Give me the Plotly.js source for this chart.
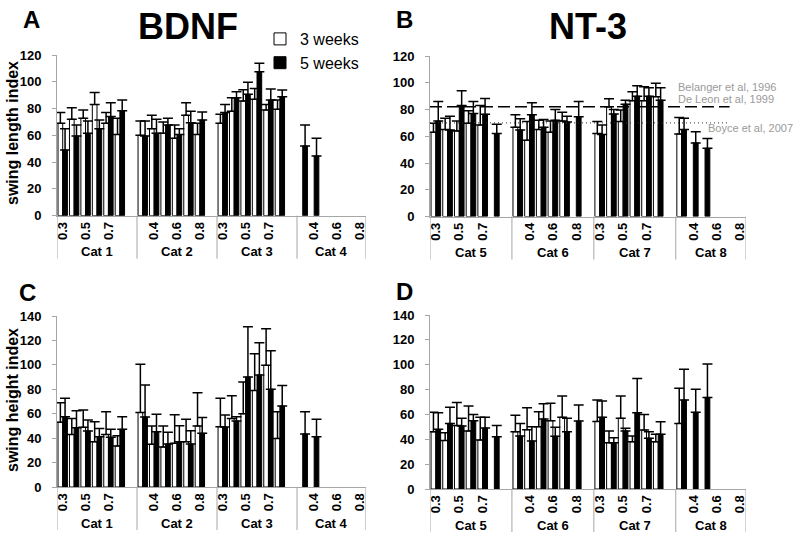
<!DOCTYPE html>
<html>
<head>
<meta charset="utf-8">
<script src="https://cdn.plot.ly/plotly-3.0.1.min.js"></script>
<style>html,body{margin:0;padding:0;background:#fff;}#chart{width:800px;height:541px;}</style>
</head>
<body>
<div id="chart"></div>
<script>
// ---- categories & tick labels (last slot of Cat 1-3 is an unlabeled spacer) ----
const catsBDNF = ["Cat 1", "Cat 2", "Cat 3", "Cat 4"];
const catsNT3 = ["Cat 5", "Cat 6", "Cat 7", "Cat 8"];
const subLabels = [
  ["0.3","0.4","0.5","0.6","0.7","0.8",""],
  ["0.3","0.4","0.5","0.6","0.7","0.8",""],
  ["0.3","0.4","0.5","0.6","0.7","0.8",""],
  ["0.3","0.4","0.5","0.6","0.7","0.8"]
];
const seriesNames = ["3 weeks", "5 weeks"];

// ---- A: BDNF swing length index ----
const bdnfLen3 = [69,72,72.7,83,69,60.7,null, 60,65,61.5,57.8,75,60.7,null, 69,78,85.6,86.9,79,79.4,null, null,null,null,null,null,null];
const bdnfLen3Err = [8,8.6,6.3,9,8,12,null, 10.7,10,8.5,9.9,9.4,8.3,null, 6.7,10,8.4,8.1,4,7,null, null,null,null,null,null,null];
const bdnfLen5 = [49,59.5,61.5,65,74,78.4,null, 59.5,61.5,67.7,60.7,69.5,71.4,null, 77,88,90.6,107.5,86.4,88.9,null, 52,44.6,null,null,null,null];
const bdnfLen5Err = [16,8.2,9.2,6.4,10.4,8,null, 11.2,10.5,5,4.3,8.5,6,null, 6,4.6,9,6.3,8.2,5,null, 15.7,13.2,null,null,null,null];

// ---- B: NT-3 swing length index ----
const nt3Len3 = [63,65,64,69.7,68.4,null,null, 66.7,57,65,63,71.4,null,null, 62,82,71,86.6,86.6,89.6,null, 61.7,null,null,null,null,null];
const nt3Len3Err = [6.7,8.4,7.4,9.3,14.6,null,null, 9.3,14,7,8.4,6.6,null,null, 9,6,8.6,6.7,10.4,10,null, 12.3,null,null,null,null,null];
const nt3Len5 = [71.4,64.7,83,77,76.4,62,null, 64.7,76,66.7,72,70.7,74.6,null, 61.4,76.6,83.9,90,90,87,null, 65,55,51,null,null,null];
const nt3Len5Err = [14.6,10.3,11,9,11.9,7,null, 8.3,9,5.9,8,4.3,11.3,null, 7,3.4,3.1,7.8,6.3,9.3,null, 8.4,8.4,7.4,null,null,null];

// reference values (NT-3 length panel)
const refNames = ["Belanger et al, 1996", "De Leon et al, 1999", "Boyce et al, 2007"];
const refDashed = 82;   // Belanger 1996 / De Leon 1999
const refDotted = 70;   // Boyce 2007
const refEndSlot = 25.1;

// ---- C: BDNF swing height index ----
const bdnfHt3 = [53,43,48.9,37,43,33.6,null, 61,35,32.8,35.8,37.1,50,null, 49.4,56,60,79,99.6,39.8,null, null,null,null,null,null,null];
const bdnfHt3Err = [16,13,14.1,16.5,18.7,8.4,null, 39.4,15,17.2,23.4,18.3,27.2,null, 23.2,18.8,26,30,30,21.9,null, null,null,null,null,null,null];
const bdnfHt5 = [57.6,48.6,45.9,41.2,40.7,47.2,null, 57.3,45.3,35.2,37.1,35.2,44,null, 49.1,54,90,91.7,80,66.3,null, 43.4,41.2,null,null,null,null];
const bdnfHt5Err = [15,13.9,9,6.6,6.5,10.4,null, 26.2,14.2,9.6,13.1,10.8,13,null, 9.9,3.6,41.3,26.3,31.6,16.9,null, 18.3,14.2,null,null,null,null];

// ---- D: NT-3 swing height index ----
const nt3Ht3 = [46,39,51,46.7,39.4,null,null, 46,47.7,50.1,55,57.7,null,null, 54.4,37.3,56.9,38,47.5,38,null, 52.8,null,null,null,null,null];
const nt3Ht3Err = [15.7,6.3,18.5,20.1,18.3,null,null, 13.3,17.7,12.1,13.9,17.1,null,null, 17.2,9.4,17.9,4.6,12.5,6,null, 28.2,null,null,null,null,null];
const nt3Ht5 = [48,52.8,50.7,55,49,42,null, 42.6,38.6,56.3,42.4,46.1,54.7,null, 57.7,37.3,46.7,61.4,40.8,44,null, 71.6,61.7,73.7,null,null,null];
const nt3Ht5Err = [13.4,12.9,6.2,5,8.7,9,null, 10.2,11.5,12.3,7.2,10.8,12.9,null, 13.1,4,2.1,27.6,5.3,10.2,null, 24.7,18.5,26.9,null,null,null];

// ---- helpers ----
const W = 800, H = 541;
const FONT = "Liberation Sans, Arial, sans-serif";
const GREY = "#a6a6a6";
const catSizes = subLabels.map(s => s.length);
const slotX = [];
const tickVals = [], tickText = [];
{ let i = 0; subLabels.forEach(sl => sl.forEach(lbl => { slotX.push(i); if (i % 2 === 0 && lbl !== "") { tickVals.push(i); tickText.push(lbl); } i++; })); }
const bounds = [-0.5];
catSizes.forEach(n => bounds.push(bounds[bounds.length - 1] + n));
const nSlots = slotX.length;

const panels = [
  {ax: "", cats: catsBDNF, d3: bdnfLen3, e3: bdnfLen3Err, d5: bdnfLen5, e5: bdnfLen5Err, xd: [57, 365.6], yd: [215.7, 55], yr: [0,120], legend: true},
  {ax: "2", cats: catsNT3, d3: nt3Len3, e3: nt3Len3Err, d5: nt3Len5, e5: nt3Len5Err, xd: [430, 746], yd: [216.5, 56], yr: [0,120], legend: false},
  {ax: "3", cats: catsBDNF, d3: bdnfHt3, e3: bdnfHt3Err, d5: bdnfHt5, e5: bdnfHt5Err, xd: [57, 365.6], yd: [487, 316], yr: [0,140], legend: false},
  {ax: "4", cats: catsNT3, d3: nt3Ht3, e3: nt3Ht3Err, d5: nt3Ht5, e5: nt3Ht5Err, xd: [430, 746], yd: [489, 315], yr: [0,140], legend: false}
];

const traces = [];
const shapes = [];
const annotations = [];
const layout = {
  width: W, height: H,
  margin: {l: 0, r: 0, t: 0, b: 0},
  paper_bgcolor: "#fff", plot_bgcolor: "rgba(0,0,0,0)",
  barmode: "group", bargap: 0.18, bargroupgap: 0,
  font: {family: FONT, color: "#000"},
  showlegend: true,
  legend: {x: 260/W, y: 1 - 22/H, xanchor: "left", yanchor: "top", bgcolor: "rgba(0,0,0,0)",
           font: {family: FONT, size: 16, color: "#000"}, tracegroupgap: 0, itemwidth: 30},
  shapes: shapes, annotations: annotations
};

const zeros = arr => arr.map(v => v === null ? null : 0);

panels.forEach(p => {
  const xa = "x" + p.ax, ya = "y" + p.ax;
  const yBottom = 1 - p.yd[0] / H, yTop = 1 - p.yd[1] / H;
  layout["xaxis" + p.ax] = {
    domain: [p.xd[0] / W, p.xd[1] / W], anchor: ya, range: [-0.5, nSlots - 0.5],
    showline: true, linecolor: GREY, linewidth: 1, showgrid: false, zeroline: false,
    ticks: "", tickmode: "array", tickvals: tickVals, ticktext: tickText, tickangle: -90,
    tickfont: {family: FONT, size: 13, weight: 700, color: "#000"}
  };
  layout["yaxis" + p.ax] = {
    domain: [yBottom, yTop], anchor: xa, range: p.yr, dtick: 20, tick0: 0,
    showline: true, linecolor: GREY, linewidth: 1, showgrid: false, zeroline: false,
    ticks: "outside", ticklen: 4, tickcolor: GREY, tickwidth: 1, ticklabelstandoff: 8,
    tickfont: {family: FONT, size: 13, weight: 700, color: "#000"}
  };
  traces.push({
    type: "bar", name: seriesNames[0], x: slotX, y: p.d3, xaxis: xa, yaxis: ya,
    marker: {color: "#ffffff", line: {color: "#000", width: 1}},
    error_y: {type: "data", symmetric: false, array: p.e3, arrayminus: zeros(p.e3), color: "#000", thickness: 1.5, width: 5},
    showlegend: p.legend, legendgroup: "w3", hoverinfo: "y"
  });
  traces.push({
    type: "bar", name: seriesNames[1], x: slotX, y: p.d5, xaxis: xa, yaxis: ya,
    marker: {color: "#000000", line: {color: "#000", width: 1}},
    error_y: {type: "data", symmetric: false, array: p.e5, arrayminus: zeros(p.e5), color: "#000", thickness: 1.5, width: 5},
    showlegend: p.legend, legendgroup: "w5", hoverinfo: "y"
  });
  // category dividers and labels
  bounds.forEach(b => shapes.push({type: "line", xref: xa, yref: "paper", x0: b, x1: b,
    y0: yBottom, y1: yBottom - 43 / H, line: {color: GREY, width: 1}}));
  p.cats.forEach((c, k) => annotations.push({text: c, xref: xa, yref: "paper",
    x: (bounds[k] + bounds[k + 1]) / 2, y: yBottom - 36 / H, xanchor: "center", yanchor: "middle",
    showarrow: false, font: {family: FONT, size: 13, weight: 700, color: "#000"}}));
});

// reference lines in panel B
shapes.push({type: "line", xref: "x2", yref: "y2", x0: -0.5, x1: refEndSlot, y0: refDashed, y1: refDashed,
  line: {color: "#000", width: 1.5, dash: "12px,5px"}});
shapes.push({type: "line", xref: "x2", yref: "y2", x0: -0.5, x1: refEndSlot, y0: refDotted, y1: refDotted,
  line: {color: "#333", width: 1, dash: "1px,3px"}});
const refFont = {family: FONT, size: 11, color: "#9a9a9a"};
annotations.push({text: refNames[0], xref: "paper", yref: "paper", x: 676 / W, y: 1 - 87 / H, xanchor: "left", yanchor: "middle", showarrow: false, font: refFont});
annotations.push({text: refNames[1], xref: "paper", yref: "paper", x: 676 / W, y: 1 - 99 / H, xanchor: "left", yanchor: "middle", showarrow: false, font: refFont});
annotations.push({text: refNames[2], xref: "paper", yref: "paper", x: 706 / W, y: 1 - 128 / H, xanchor: "left", yanchor: "middle", showarrow: false, font: refFont});

// panel letters, titles, y titles
const bold = (s) => ({family: FONT, size: s, weight: 700, color: "#000"});
[["A", 31, 19], ["B", 404, 19], ["C", 27, 292], ["D", 404, 291]].forEach(([t, x, y]) =>
  annotations.push({text: t, xref: "paper", yref: "paper", x: x / W, y: 1 - y / H, xanchor: "center", yanchor: "middle", showarrow: false, font: bold(24)}));
annotations.push({text: "BDNF", xref: "paper", yref: "paper", x: 188 / W, y: 1 - 27 / H, xanchor: "center", yanchor: "middle", showarrow: false, font: bold(36)});
annotations.push({text: "NT-3", xref: "paper", yref: "paper", x: 588 / W, y: 1 - 27 / H, xanchor: "center", yanchor: "middle", showarrow: false, font: bold(36)});
annotations.push({text: "swing length index", xref: "paper", yref: "paper", x: 12 / W, y: 1 - 133 / H, xanchor: "center", yanchor: "middle", textangle: -90, showarrow: false, font: bold(16)});
annotations.push({text: "swing height index", xref: "paper", yref: "paper", x: 12 / W, y: 1 - 400 / H, xanchor: "center", yanchor: "middle", textangle: -90, showarrow: false, font: bold(16)});

Plotly.newPlot("chart", traces, layout, {staticPlot: true});
</script>
</body>
</html>
